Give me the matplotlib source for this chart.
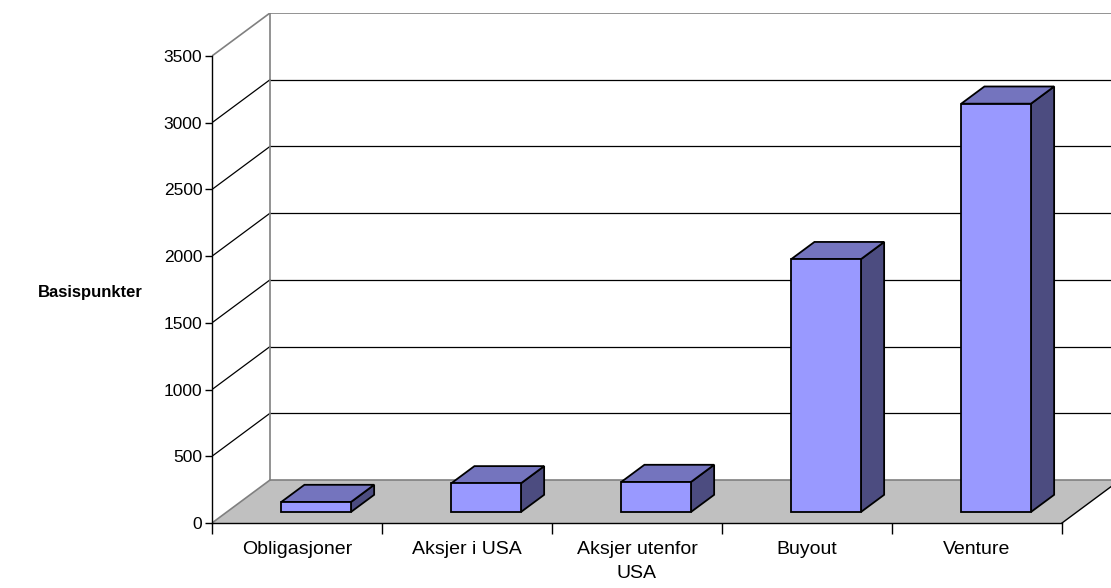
import matplotlib
matplotlib.use("Agg")
from matplotlib import pyplot as plt
from matplotlib.patches import Polygon
import numpy as np

plt.rcParams['font.family'] = ['Liberation Sans', 'DejaVu Sans']

# data
categories = ["Obligasjoner", "Aksjer i USA", "Aksjer utenfor\nUSA", "Buyout", "Venture"]
values = [75, 215, 225, 1895, 3060]
yticks = [0, 500, 1000, 1500, 2000, 2500, 3000, 3500]

# fake 3d: depth offset of the back wall in data units
kx = 0.341
ky = 322.0
z0 = 0.256     # bar front depth
dz = 0.40      # bar depth
bw = 0.41      # bar width
boff = 0.32    # bar left offset inside category

c_front = '#9999FF'
c_top = '#7474BE'
c_side = '#4C4C80'
c_floor = '#C0C0C0'
c_wall = '#808080'

def P(x, v, z):
    return (x + z*kx, v + z*ky)

W, H = 1111, 588
fig = plt.figure(figsize=(W/100, H/100), dpi=100)
ax = fig.add_axes([212/W, (H-523)/H, (W-212)/W, 510/H])
n = len(categories)
ax.set_xlim(0, (W-212)/170)
ax.set_ylim(0, 3500+ky)
ax.patch.set_visible(False)

ymax = yticks[-1]
xr = ax.get_xlim()[1] + 1

# back wall + side wall gridlines
for v in yticks[1:-1]:
    ax.plot([kx, xr], [v+ky, v+ky], color='black', lw=0.9, zorder=1)
    ax.plot([0, kx], [v, v+ky], color='black', lw=0.9, zorder=1)
ax.plot([kx, xr], [ymax+ky, ymax+ky], color=c_wall, lw=1.2, zorder=1)
ax.plot([0, kx], [ymax, ymax+ky], color=c_wall, lw=1.2, zorder=1)
ax.plot([kx, kx], [ky, ymax+ky], color=c_wall, lw=1.2, zorder=1)

# floor
floor = Polygon([P(0, 0, 0), P(n, 0, 0), P(n, 0, 1), P(0, 0, 1)],
                closed=True, facecolor=c_floor, edgecolor='none', zorder=2)
ax.add_patch(floor)
ax.plot([kx, xr], [ky, ky], color=c_wall, lw=1.2, zorder=2)
ax.plot([0, kx], [0, ky], color=c_wall, lw=1.2, zorder=2)
ax.plot([n, n+kx], [0, ky], color='black', lw=1.0, zorder=2)

# bars
for i, v in enumerate(values):
    x0 = i + boff
    x1 = x0 + bw
    za, zb = z0, z0 + dz
    front = [P(x0, 0, za), P(x1, 0, za), P(x1, v, za), P(x0, v, za)]
    side = [P(x1, 0, za), P(x1, 0, zb), P(x1, v, zb), P(x1, v, za)]
    top = [P(x0, v, za), P(x1, v, za), P(x1, v, zb), P(x0, v, zb)]
    for pts, c in [(side, c_side), (top, c_top), (front, c_front)]:
        ax.add_patch(Polygon(pts, closed=True, facecolor=c, edgecolor='black',
                             lw=1.3, joinstyle='miter', zorder=3))

# axes
for s in ['top', 'right']:
    ax.spines[s].set_visible(False)
ax.spines['left'].set_bounds(0, ymax)
ax.spines['bottom'].set_bounds(0, n)
for s in ['left', 'bottom']:
    ax.spines[s].set_linewidth(1.0)
    ax.spines[s].set_zorder(4)
ax.set_yticks(yticks)
ax.tick_params(axis='y', direction='out', length=5, width=1.0, pad=2, labelsize=12.5)
ax.set_xticks(np.arange(n+1))
ax.set_xticklabels([])
ax.tick_params(axis='x', which='major', direction='out', length=8, width=1.0)
ax.set_xticks(np.arange(n) + 0.5, minor=True)
ax.set_xticklabels(categories, minor=True, fontsize=14, linespacing=1.55)
ax.tick_params(axis='x', which='minor', length=0, pad=13)

fig.text(90/W, 1-293/H, "Basispunkter", fontsize=12, fontweight='bold',
         ha='center', va='center')

fig.savefig("out.png", dpi=100)
